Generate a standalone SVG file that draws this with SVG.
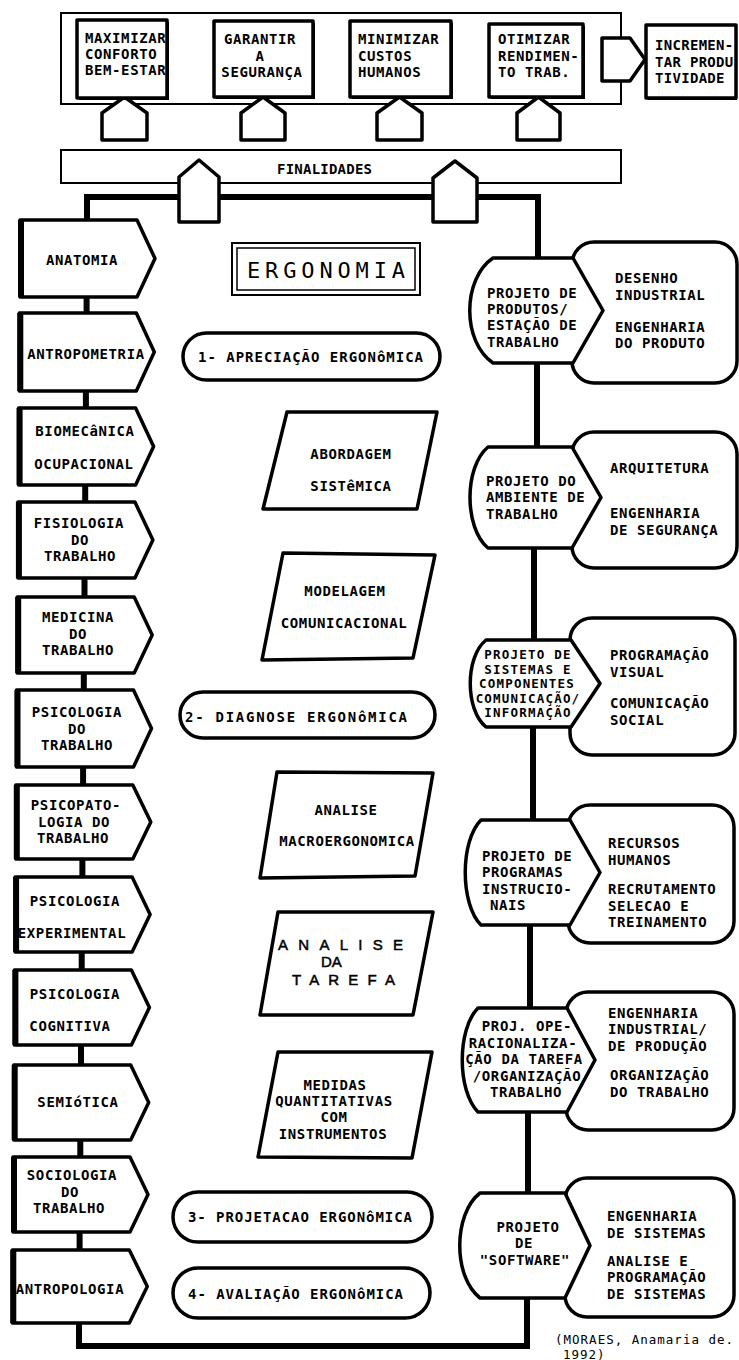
<svg xmlns="http://www.w3.org/2000/svg" width="739" height="1360" viewBox="0 0 739 1360">
<style>
.s{fill:#fff;stroke:#000;stroke-width:3.5;stroke-linejoin:round}
.thin{fill:#fff;stroke:#000;stroke-width:2}
.ln{fill:none;stroke:#000;stroke-width:6}
.lb{stroke:#000;stroke-width:6}
.sh{fill:#000}
text{font-family:"DejaVu Sans Mono","Liberation Mono",monospace;font-weight:bold;font-size:14px;letter-spacing:0.6px;fill:#000}
.m{text-anchor:middle}
.sm{font-size:12.5px;letter-spacing:1.2px}
.er{font-weight:normal;font-size:22px;letter-spacing:0}
.ta{font-family:"Liberation Sans",Arial,sans-serif;font-weight:normal;font-size:15px;letter-spacing:0;stroke:#000;stroke-width:0.5}
.cit{font-weight:normal;font-size:12.5px;letter-spacing:1px}
.pl{letter-spacing:0}
</style>
<rect width="739" height="1360" fill="#fff"/>

<g id="frame-top"><rect class="thin" x="61" y="13" width="560" height="91"/></g>
<g id="finalidades"><rect class="thin" x="61" y="150" width="560" height="33"/><text class="pl" x="277" y="174" textLength="95">FINALIDADES</text></g>

<g id="connectors">
<path class="ln" d="M87,220 V197 H538 V258"/>
<path class="ln" d="M79,1323 V1346 H527 V1298"/>
<path class="ln" d="M86.6,297 V313 M85.9,391 V408 M85.2,485 V502 M84.5,578 V597 M83.8,673 V690 M83.1,767 V785 M82.4,859 V877 M81.7,952 V970 M81,1045 V1065 M80.3,1140 V1157 M79.6,1232 V1250"/>
<path class="ln" d="M537,363 V447 M534,548 V640 M533,727 V820 M530,925 V1008 M528,1112 V1193"/>
<path class="s" d="M102,140 V113 L124.5,97 L147,113 V140 Z"/>
<path class="s" d="M241,140 V113 L263,97 L285,113 V140 Z"/>
<path class="s" d="M377,140 V113 L399.5,97 L422,113 V140 Z"/>
<path class="s" d="M517,140 V113 L538.5,97 L560,113 V140 Z"/>
<path class="s" d="M179,222 V177 L199,160 L219,177 V222 Z"/>
<path class="s" d="M433,222 V178 L455,161 L477,178 V222 Z"/>
<path class="s" d="M602,38 H630 L645,59.5 L630,81 H602 Z"/>
</g>

<g id="box-maximizar"><rect class="sh" x="79" y="22" width="90" height="78"/><rect class="s" x="77" y="20" width="90" height="78"/>
<text><tspan x="85" y="42.5">MAXIMIZAR</tspan><tspan x="85" y="58.9">CONFORTO</tspan><tspan x="85" y="75.3">BEM-ESTAR</tspan></text></g>
<g id="box-garantir"><rect class="sh" x="216" y="23" width="99" height="76"/><rect class="s" x="214" y="21" width="99" height="76"/>
<text class="m"><tspan x="260" y="44.3">GARANTIR</tspan><tspan x="260" y="60.7">A</tspan><tspan x="262" y="77.1">SEGURANÇA</tspan></text></g>
<g id="box-minimizar"><rect class="sh" x="352" y="23" width="101" height="76"/><rect class="s" x="350" y="21" width="101" height="76"/>
<text><tspan x="358" y="44.3">MINIMIZAR</tspan><tspan x="358" y="60.7">CUSTOS</tspan><tspan x="358" y="77.1">HUMANOS</tspan></text></g>
<g id="box-otimizar"><rect class="sh" x="491" y="26" width="94" height="73"/><rect class="s" x="489" y="24" width="94" height="73"/>
<text><tspan x="498" y="44.3">OTIMIZAR</tspan><tspan x="498" y="60.7">RENDIMEN-</tspan><tspan x="498" y="77.1">TO TRAB.</tspan></text></g>
<g id="box-incrementar"><rect class="sh" x="648" y="27" width="89" height="73"/><rect class="s" x="646" y="25" width="90" height="73"/>
<text style="letter-spacing:0.3px"><tspan x="655" y="50.3">INCREMEN-</tspan><tspan x="655" y="66.7">TAR PRODU</tspan><tspan x="655" y="83.1">TIVIDADE</tspan></text></g>

<g id="left-anatomia"><path class="s" d="M20,220 H137 L155,258.5 L137,297 H20 Z"/><path class="lb" d="M21,220 V297"/><text class="m" x="82" y="265">ANATOMIA</text></g>
<g id="left-antropometria"><path class="s" d="M19.3,313 H136.3 L154.3,352 L136.3,391 H19.3 Z"/><path class="lb" d="M20.3,313 V391"/><text class="m" x="86" y="359">ANTROPOMETRIA</text></g>
<g id="left-biomecanica"><path class="s" d="M18.6,408 H135.6 L153.6,446.5 L135.6,485 H18.6 Z"/><path class="lb" d="M19.6,408 V485"/><text class="m"><tspan x="85" y="436">BIOMECâNICA</tspan><tspan x="84" y="469">OCUPACIONAL</tspan></text></g>
<g id="left-fisiologia"><path class="s" d="M17.9,502 H134.9 L152.9,540 L134.9,578 H17.9 Z"/><path class="lb" d="M18.9,502 V578"/><text class="m"><tspan x="79" y="528.1">FISIOLOGIA</tspan><tspan x="80" y="544.5">DO</tspan><tspan x="80" y="560.9">TRABALHO</tspan></text></g>
<g id="left-medicina"><path class="s" d="M17.2,597 H134.2 L152.2,635 L134.2,673 H17.2 Z"/><path class="lb" d="M18.2,597 V673"/><text class="m"><tspan x="78" y="622.1">MEDICINA</tspan><tspan x="78" y="638.5">DO</tspan><tspan x="78" y="654.9">TRABALHO</tspan></text></g>
<g id="left-psicologia-trabalho"><path class="s" d="M16.5,690 H133.5 L151.5,728.5 L133.5,767 H16.5 Z"/><path class="lb" d="M17.5,690 V767"/><text class="m"><tspan x="77" y="717.1">PSICOLOGIA</tspan><tspan x="77" y="733.5">DO</tspan><tspan x="77" y="749.9">TRABALHO</tspan></text></g>
<g id="left-psicopatologia"><path class="s" d="M15.8,785 H132.8 L150.8,822 L132.8,859 H15.8 Z"/><path class="lb" d="M16.8,785 V859"/><text class="m"><tspan x="76" y="810.1">PSICOPATO-</tspan><tspan x="74" y="826.5">LOGIA DO</tspan><tspan x="73" y="842.9">TRABALHO</tspan></text></g>
<g id="left-psicologia-experimental"><path class="s" d="M15.1,877 H132.1 L150.1,914.5 L132.1,952 H15.1 Z"/><path class="lb" d="M16.1,877 V952"/><text class="m"><tspan x="75" y="906">PSICOLOGIA</tspan><tspan x="72" y="938">EXPERIMENTAL</tspan></text></g>
<g id="left-psicologia-cognitiva"><path class="s" d="M14.4,970 H131.4 L149.4,1007.5 L131.4,1045 H14.4 Z"/><path class="lb" d="M15.4,970 V1045"/><text class="m"><tspan x="75" y="999">PSICOLOGIA</tspan><tspan x="70" y="1031">COGNITIVA</tspan></text></g>
<g id="left-semiotica"><path class="s" d="M13.7,1065 H130.7 L148.7,1102.5 L130.7,1140 H13.7 Z"/><path class="lb" d="M14.7,1065 V1140"/><text class="m" x="78" y="1107">SEMIóTICA</text></g>
<g id="left-sociologia"><path class="s" d="M13,1157 H130 L148,1194.5 L130,1232 H13 Z"/><path class="lb" d="M14,1157 V1232"/><text class="m"><tspan x="72" y="1180.1">SOCIOLOGIA</tspan><tspan x="70" y="1196.5">DO</tspan><tspan x="69" y="1212.9">TRABALHO</tspan></text></g>
<g id="left-antropologia"><path class="s" d="M12.3,1250 H129.3 L147.3,1286.5 L129.3,1323 H12.3 Z"/><path class="lb" d="M13.3,1250 V1323"/><text class="m" x="70" y="1294">ANTROPOLOGIA</text></g>

<g id="ergonomia"><rect fill="#fff" stroke="#000" stroke-width="2" x="232" y="243" width="188" height="52"/><rect fill="none" stroke="#000" stroke-width="1.5" x="237" y="248" width="178" height="42"/><text class="er" x="247" y="278" textLength="158" lengthAdjust="spacing">ERGONOMIA</text></g>
<g id="pill-apreciacao"><rect class="s" x="183" y="333" width="257" height="47" rx="23.5"/><text class="pl" x="198" y="362" textLength="225">1- APRECIAÇÃO ERGONôMICA</text></g>
<g id="para-abordagem"><polygon class="s" points="287,412 437,412 417,509 263,509"/><text class="m"><tspan x="351" y="459">ABORDAGEM</tspan><tspan x="351" y="491">SISTêMICA</tspan></text></g>
<g id="para-modelagem"><polygon class="s" points="283,553 435,555 413,658 262,660"/><text class="m"><tspan x="345" y="596">MODELAGEM</tspan><tspan x="344" y="628">COMUNICACIONAL</tspan></text></g>
<g id="pill-diagnose"><rect class="s" x="180" y="692" width="255" height="46" rx="23"/><text class="pl" x="185" y="722" textLength="222">2- DIAGNOSE ERGONôMICA</text></g>
<g id="para-macro"><polygon class="s" points="277,772 433,773 415,876 260,878"/><text class="m"><tspan x="346" y="815">ANALISE</tspan><tspan x="347" y="846">MACROERGONOMICA</tspan></text></g>
<g id="para-tarefa"><polygon class="s" points="278,912 433,912 413,1015 260,1015"/><text class="ta"><tspan x="278" y="950" textLength="125" lengthAdjust="spacing">ANALISE</tspan><tspan x="321" y="967.4">DA</tspan><tspan x="292" y="984.7" textLength="103" lengthAdjust="spacing">TAREFA</tspan></text></g>
<g id="para-medidas"><polygon class="s" points="278,1052 432,1052 412,1158 258,1157"/><text class="m"><tspan x="335" y="1089.5">MEDIDAS</tspan><tspan x="334" y="1105.9">QUANTITATIVAS</tspan><tspan x="334" y="1122.3">COM</tspan><tspan x="333" y="1138.7">INSTRUMENTOS</tspan></text></g>
<g id="pill-projetacao"><rect class="s" x="173" y="1192" width="259" height="50" rx="25"/><text class="pl" x="188" y="1222" textLength="224">3- PROJETACAO ERGONôMICA</text></g>
<g id="pill-avaliacao"><rect class="s" x="173" y="1268" width="257" height="50" rx="25"/><text class="pl" x="188" y="1299" textLength="215">4- AVALIAÇÃO ERGONôMICA</text></g>

<g id="right-1"><rect class="s" x="572" y="242" width="165" height="141" rx="22"/><path class="s" d="M493,258 H573 L603,310.5 L573,363 H493 C462,342 462,279 493,258 Z"/>
<text><tspan x="487" y="297.5">PROJETO DE</tspan><tspan x="487" y="313.9">PRODUTOS/</tspan><tspan x="487" y="330.3">ESTAÇÃO DE</tspan><tspan x="487" y="346.7">TRABALHO</tspan></text>
<text><tspan x="615" y="283.4">DESENHO</tspan><tspan x="615" y="299.8">INDUSTRIAL</tspan><tspan x="615" y="331.9">ENGENHARIA</tspan><tspan x="615" y="348.3">DO PRODUTO</tspan></text></g>
<g id="right-2"><rect class="s" x="572" y="432" width="165" height="136" rx="22"/><path class="s" d="M488,447 H572 L601,497.5 L572,548 H488 C464,528 464,467 488,447 Z"/>
<text><tspan x="486" y="485.8">PROJETO DO</tspan><tspan x="486" y="502.2">AMBIENTE DE</tspan><tspan x="486" y="518.6">TRABALHO</tspan></text>
<text><tspan x="610" y="473">ARQUITETURA</tspan><tspan x="610" y="518.4">ENGENHARIA</tspan><tspan x="610" y="534.8">DE SEGURANÇA</tspan></text></g>
<g id="right-3"><rect class="s" x="570" y="618" width="165" height="137" rx="22"/><path class="s" d="M486,640 H571 L600,683.5 L571,727 H486 C465,710 465,657 486,640 Z"/>
<text class="m sm"><tspan x="528" y="658.9">PROJETO DE</tspan><tspan x="528" y="673.5">SISTEMAS E</tspan><tspan x="527" y="688.1">COMPONENTES</tspan><tspan x="528" y="702.7">COMUNICAÇÃO/</tspan><tspan x="528" y="717.3">INFORMAÇÃO</tspan></text>
<text><tspan x="610" y="660.4">PROGRAMAÇÃO</tspan><tspan x="610" y="676.8">VISUAL</tspan><tspan x="610" y="708.4">COMUNICAÇÃO</tspan><tspan x="610" y="724.8">SOCIAL</tspan></text></g>
<g id="right-4"><rect class="s" x="568" y="805" width="166" height="138" rx="22"/><path class="s" d="M481,820 H570 L600,872.5 L570,925 H481 C460,904 460,841 481,820 Z"/>
<text><tspan x="482" y="861">PROJETO DE</tspan><tspan x="482" y="877.4">PROGRAMAS</tspan><tspan x="482" y="893.8">INSTRUCIO-</tspan><tspan x="490" y="910.2">NAIS</tspan></text>
<text><tspan x="608" y="848.4">RECURSOS</tspan><tspan x="608" y="864.8">HUMANOS</tspan><tspan x="608" y="894.3">RECRUTAMENTO</tspan><tspan x="608" y="910.7">SELECAO E</tspan><tspan x="608" y="927.1">TREINAMENTO</tspan></text></g>
<g id="right-5"><rect class="s" x="566" y="992" width="168" height="138" rx="22"/><path class="s" d="M478,1008 H567 L595,1060 L567,1112 H478 C457,1091 457,1029 478,1008 Z"/>
<text class="m"><tspan x="527" y="1031.3">PROJ. OPE-</tspan><tspan x="523" y="1047.7">RACIONALIZA-</tspan><tspan x="524" y="1064.1">ÇÃO DA TAREFA</tspan><tspan x="527" y="1080.5">/ORGANIZAÇÃO</tspan><tspan x="526" y="1096.9">TRABALHO</tspan></text>
<text><tspan x="608" y="1018">ENGENHARIA</tspan><tspan x="608" y="1034.4">INDUSTRIAL/</tspan><tspan x="608" y="1050.8">DE PRODUÇÃO</tspan><tspan x="610" y="1080.4">ORGANIZAÇÃO</tspan><tspan x="610" y="1096.8">DO TRABALHO</tspan></text></g>
<g id="right-6"><rect class="s" x="565" y="1178" width="169" height="139" rx="22"/><path class="s" d="M480,1193 H565 L590,1245.5 L565,1298 H480 C453,1277 453,1214 480,1193 Z"/>
<text class="m"><tspan x="528" y="1232">PROJETO</tspan><tspan x="524" y="1248.4">DE</tspan><tspan x="525" y="1264.8">"SOFTWARE"</tspan></text>
<text><tspan x="607" y="1221.4">ENGENHARIA</tspan><tspan x="607" y="1237.8">DE SISTEMAS</tspan><tspan x="607" y="1265.8">ANALISE E</tspan><tspan x="607" y="1282.2">PROGRAMAÇÃO</tspan><tspan x="607" y="1298.6">DE SISTEMAS</tspan></text></g>

<g id="citation"><text class="cit"><tspan x="555" y="1344">(MORAES, Anamaria de.</tspan><tspan x="563" y="1359">1992)</tspan></text></g>
</svg>
